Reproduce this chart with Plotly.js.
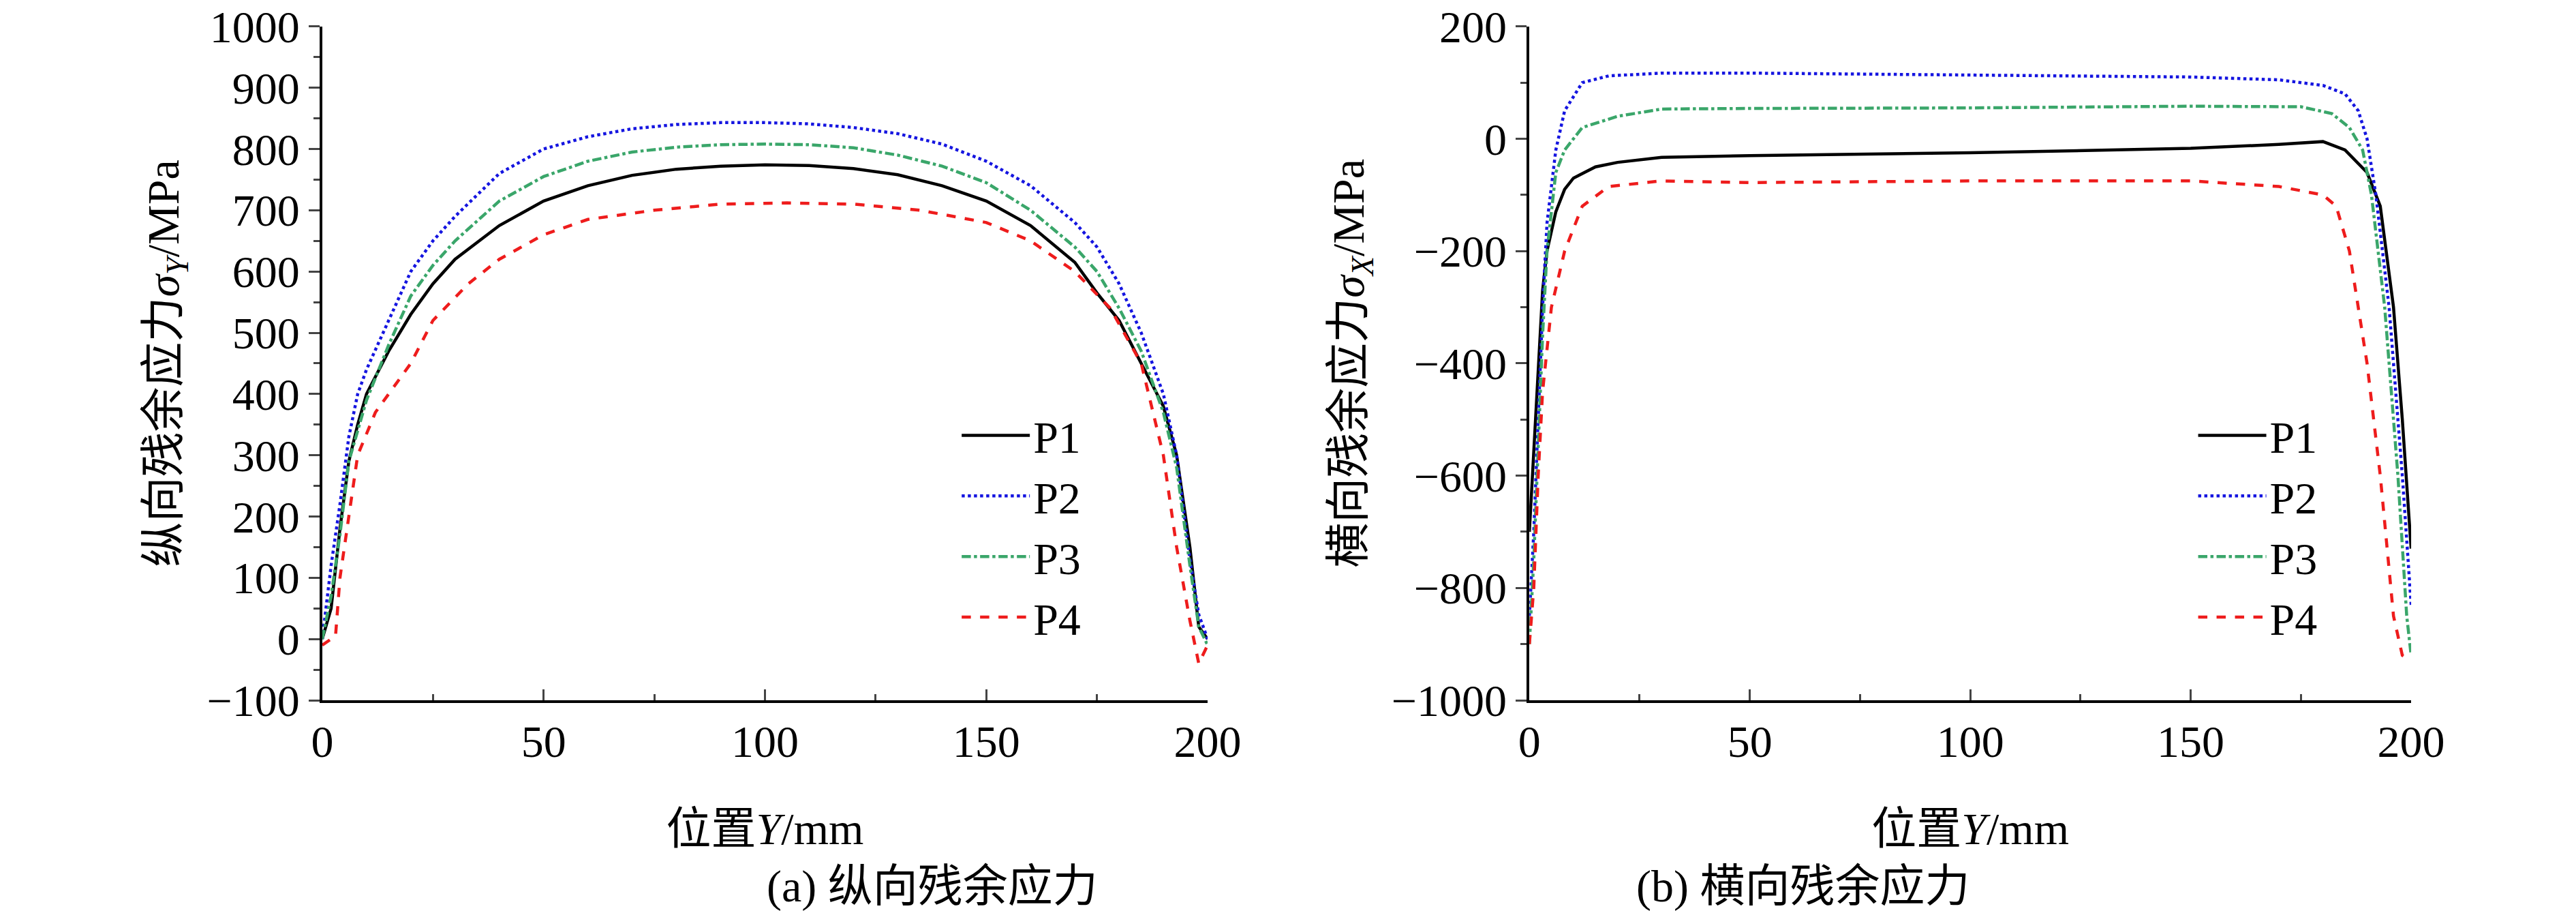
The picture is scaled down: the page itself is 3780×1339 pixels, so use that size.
<!DOCTYPE html>
<html>
<head>
<meta charset="utf-8">
<script src="https://cdn.plot.ly/plotly-3.0.1.min.js"></script>
<style>html,body{margin:0;padding:0;background:#fff}#chart{width:3780px;height:1339px}</style>
</head>
<body>
<div id="chart"></div>
<script>
// (a) longitudinal residual stress
const aP1x = [0, 2, 4, 6, 8, 10, 15, 20, 25, 30, 40, 50, 60, 70, 80, 90, 100, 110, 120, 130, 140, 150, 160, 170, 175, 180, 185, 190, 193, 196, 198, 200];
const aP1y = [0, 50, 180, 290, 350, 400, 470, 530, 580, 620, 675, 715, 740, 757, 767, 772, 774, 773, 768, 758, 740, 715, 675, 615, 565, 520, 450, 380, 300, 150, 20, 0];
const aP2x = [0, 2, 4, 6, 8, 10, 15, 20, 25, 30, 40, 50, 60, 70, 80, 90, 100, 110, 120, 130, 140, 150, 160, 170, 175, 180, 185, 190, 193, 196, 198, 200];
const aP2y = [0, 120, 220, 330, 400, 440, 520, 600, 650, 690, 760, 800, 820, 833, 840, 843, 843, 841, 835, 825, 808, 780, 740, 680, 640, 580, 500, 400, 300, 130, 40, 0];
const aP3x = [0, 2, 4, 6, 10, 15, 20, 25, 30, 40, 50, 60, 70, 80, 90, 100, 110, 120, 130, 140, 150, 160, 170, 175, 180, 185, 190, 193, 196, 198, 200];
const aP3y = [0, 70, 170, 290, 390, 480, 560, 610, 650, 715, 755, 780, 795, 803, 807, 808, 807, 802, 790, 772, 745, 700, 640, 600, 540, 470, 370, 280, 120, 20, -10];
const aP4x = [0, 3, 4, 6, 8, 12, 20, 25, 33, 40, 50, 60, 75, 90, 105, 120, 135, 150, 160, 170, 178, 185, 190, 193, 196, 198, 200];
const aP4y = [-10, 5, 100, 200, 300, 370, 450, 520, 580, 620, 660, 685, 700, 710, 712, 710, 700, 680, 650, 600, 540, 450, 300, 150, 30, -40, -10];

// (b) transverse residual stress
const bP1x = [0, 1, 2, 3, 4, 6, 8, 10, 15, 20, 30, 50, 100, 150, 170, 180, 185, 190, 193, 196, 198, 200];
const bP1y = [-700, -550, -400, -270, -200, -130, -90, -70, -50, -42, -33, -30, -25, -17, -10, -5, -20, -60, -120, -300, -500, -730];
const bP2x = [0, 1, 2, 3, 4, 6, 8, 12, 18, 30, 50, 100, 150, 170, 180, 185, 188, 190, 192, 195, 198, 200];
const bP2y = [-850, -700, -500, -300, -150, -20, 50, 100, 112, 117, 117, 113, 110, 105, 95, 80, 50, 0, -100, -300, -600, -830];
const bP3x = [0, 1, 2, 3, 4, 6, 8, 12, 20, 30, 50, 100, 150, 175, 182, 186, 189, 191, 194, 197, 199, 200];
const bP3y = [-900, -750, -550, -350, -200, -60, -20, 20, 40, 53, 54, 55, 58, 57, 45, 20, -20, -100, -300, -600, -850, -920];
const bP4x = [0, 1, 2, 3, 5, 8, 12, 18, 30, 50, 100, 150, 170, 180, 183, 186, 190, 193, 196, 198, 200];
const bP4y = [-900, -800, -600, -450, -300, -200, -120, -85, -75, -78, -75, -75, -85, -100, -120, -200, -400, -600, -850, -920, -930];

const NAMES = ['P1', 'P2', 'P3', 'P4'];
const COLORS = ['#000000', '#1515e0', '#3aa66a', '#ee1c1c'];
const DASHES = ['solid', 'dot', 'dashdot', 'dash'];
const FONT = '"Liberation Serif", "DejaVu Serif", "Noto Sans CJK SC", serif';
const FS = 66;

const seriesA = [[aP1x, aP1y], [aP2x, aP2y], [aP3x, aP3y], [aP4x, aP4y]];
const seriesB = [[bP1x, bP1y], [bP2x, bP2y], [bP3x, bP3y], [bP4x, bP4y]];

const traces = [];
seriesA.forEach((s, i) => traces.push({
  x: s[0], y: s[1], name: NAMES[i], type: 'scatter', mode: 'lines',
  xaxis: 'x', yaxis: 'y', legend: 'legend',
  line: { color: COLORS[i], width: 4.5, dash: DASHES[i] },
}));
seriesB.forEach((s, i) => traces.push({
  x: s[0], y: s[1], name: NAMES[i], type: 'scatter', mode: 'lines',
  xaxis: 'x2', yaxis: 'y2', legend: 'legend2',
  line: { color: COLORS[i], width: 4.5, dash: DASHES[i] },
}));

function xAxis(domain, anchor) {
  return {
    domain, anchor, range: [0, 200], tickvals: [0, 50, 100, 150, 200],
    showline: true, linecolor: '#000', linewidth: 4, ticks: 'inside', ticklen: 16, tickwidth: 3,
    minor: { dtick: 25, ticks: 'inside', ticklen: 9, tickwidth: 3 },
    showgrid: false, zeroline: false, mirror: false,
    tickfont: { size: FS, family: FONT, color: '#000' },
    title: { text: '位置<i>Y</i>/mm', font: { size: FS, family: FONT, color: '#000' }, standoff: 70 },
  };
}
function yAxis(domain, anchor, range, dtick, minor, title) {
  return {
    domain, anchor, range, dtick,
    showline: true, linecolor: '#000', linewidth: 4, ticks: 'outside', ticklen: 16, tickwidth: 3,
    minor: { dtick: minor, ticks: 'outside', ticklen: 9, tickwidth: 3 },
    showgrid: false, zeroline: false, tickformat: 'd',
    tickfont: { size: FS, family: FONT, color: '#000' },
    title: { text: title, font: { size: FS, family: FONT, color: '#000' }, standoff: 20 },
  };
}

const legendStyle = {
  font: { size: FS, family: FONT, color: '#000' },
  bgcolor: 'rgba(0,0,0,0)', borderwidth: 0, tracegroupgap: 0,
  xanchor: 'left', yanchor: 'top', itemwidth: 100,
};

const layout = {
  width: 3780, height: 1339,
  margin: { l: 0, r: 0, t: 0, b: 0 },
  paper_bgcolor: '#fff', plot_bgcolor: '#fff',
  font: { family: FONT, color: '#000' },
  xaxis: xAxis([0.1251, 0.4688], 'y'),
  yaxis: yAxis([0.233, 0.971], 'x', [-100, 1000], 100, 50, '纵向残余应力<i>σ</i><sub><i>Y</i></sub>/MPa'),
  xaxis2: xAxis([0.5937, 0.9360], 'y2'),
  yaxis2: yAxis([0.233, 0.971], 'x2', [-1000, 200], 200, 100, '横向残余应力<i>σ</i><sub><i>X</i></sub>/MPa'),
  legend: Object.assign({ x: 0.372, y: 0.56 }, legendStyle),
  legend2: Object.assign({ x: 0.852, y: 0.56 }, legendStyle),
  annotations: [
    { text: '(a) 纵向残余应力', x: 0.297, y: 0.0, yanchor: 'bottom', xref: 'paper', yref: 'paper', showarrow: false,
      font: { size: FS, family: FONT, color: '#000' } },
    { text: '(b) 横向残余应力', x: 0.765, y: 0.0, yanchor: 'bottom', xref: 'paper', yref: 'paper', showarrow: false,
      font: { size: FS, family: FONT, color: '#000' } },
  ],
};

Plotly.newPlot('chart', traces, layout, { displayModeBar: false, staticPlot: true });
</script>
</body>
</html>
